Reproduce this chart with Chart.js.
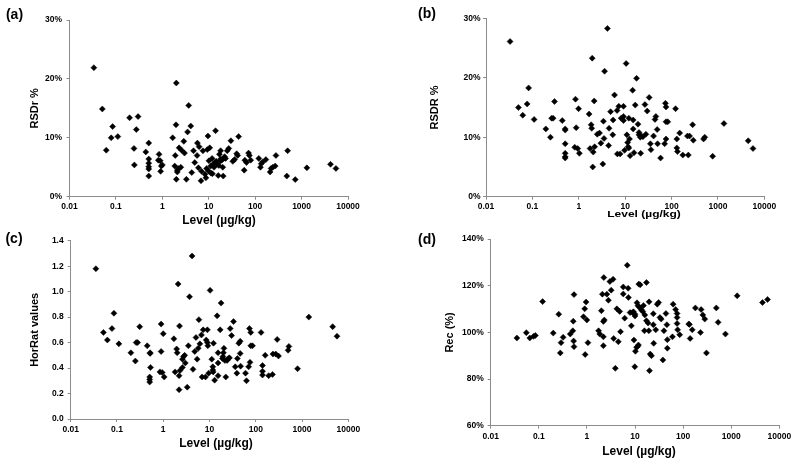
<!DOCTYPE html>
<html><head><meta charset="utf-8">
<script src="https://cdn.jsdelivr.net/npm/chart.js@4/dist/chart.umd.min.js"></script>
<style>
html,body{margin:0;padding:0;background:#fff;}
body{width:796px;height:463px;position:relative;overflow:hidden;font-family:"Liberation Sans",Arial,sans-serif;}
canvas{position:absolute;}
.lbl{position:absolute;font-weight:bold;white-space:nowrap;color:#000;transform:translate(-50%,-50%);line-height:1;}
</style></head><body>
<canvas id="ca"></canvas><canvas id="cb"></canvas><canvas id="cc"></canvas><canvas id="cd"></canvas>
<script>
// ---- data ----
const xTickValues = [0.01, 0.1, 1, 10, 100, 1000, 10000];
const xTickLabels = ["0.01", "0.1", "1", "10", "100", "1000", "10000"];
const xTitle = "Level (µg/kg)";
const panelLabels = ["(a)", "(b)", "(c)", "(d)"];
const yTitles = ["RSDr %", "RSDR %", "HorRat values", "Rec (%)"];

const levelsA = [0.0335,0.051,0.062,0.079,0.085,0.11,0.197,0.245,0.25,0.275,
0.30,0.44,0.51,0.51,0.51,0.51,0.51,0.51,0.85,0.82,
0.9,0.95,0.92,1.0,1.67,1.97,1.9,1.85,2.0,2.0,
2.1,2.2,2.3,2.5,2.6,2.9,3.0,3.3,3.5,3.7,
4.1,4.3,4.7,5.0,5.7,5.6,6.2,6.0,6.8,7.5,
8.3,8.7,9.6,9.3,9.8,10.5,11.2,11.8,12.5,13,
14,14.5,15,16,17.5,18,19,20,20.5,21,
22,25,27,30,33,36,40,44,42,58,
60,65,72,75,80,120,130,135,145,170,
210,220,240,270,280,480,500,730,1300,4200,
5500,10.1,11,13.5,9.0,7.0,16.5,23,2.1,12,
18,17];
const rsdrA = [21.9,14.9,7.9,10.0,11.9,10.2,13.4,8.2,5.4,11.4,
13.6,7.6,9.1,6.4,5.7,5.1,4.7,3.5,7.2,6.2,
6.1,5.2,4.3,5.4,10.0,12.2,7.0,5.2,19.3,2.95,
4.5,4.8,8.3,5.0,7.9,9.4,7.4,2.95,11.0,15.5,
12.0,4.1,7.8,5.8,9.1,7.0,8.5,4.9,2.7,7.8,
3.8,3.2,10.3,8.0,4.4,8.3,4.0,6.5,5.5,5.0,
11.2,6.0,5.5,3.6,6.0,7.8,6.2,5.0,3.5,6.5,
6.8,7.8,8.2,9.5,6.0,6.3,7.3,10.2,7.0,4.5,
6.2,5.8,7.4,7.0,6.2,6.5,5.0,5.6,5.9,6.3,
4.2,4.8,5.0,5.2,7.0,3.5,7.8,2.9,4.9,5.5,
4.8,6.1,5.2,5.8,4.8,4.3,5.3,6.5,4.2,3.9,
6.4,7.2];

const levelsB = [0.033,0.050,0.062,0.077,0.083,0.109,0.195,0.245,0.26,0.28,
0.30,0.44,0.51,0.51,0.51,0.51,0.51,0.51,0.85,0.88,
0.82,0.95,0.99,1.03,1.67,1.85,1.9,1.75,1.95,2.05,
2.0,2.15,2.2,2.5,2.8,3.0,3.5,3.3,3.4,3.6,
4.15,4.4,4.5,4.85,5.4,5.5,5.9,6.7,6.8,7.3,
7.8,8.2,9.2,9.2,9.2,10.5,9.7,10.9,12.0,11.3,
11.6,12.0,12.4,12.8,14.5,14.9,14.9,15.5,16.5,17.6,
18.9,19.9,19.9,21.2,22.3,21.6,24.2,28,26.7,29.9,
33,35,36,41,44,46,49,50,58,74,
76,76,83,76,71,122,130,130,134,150,
175,230,220,245,285,295,490,520,770,1350,
4500,5700];
const rsdRB = [26.1,15.0,13.7,15.6,18.3,13.0,11.4,10.0,13.2,13.2,
16.0,12.8,11.4,11.2,8.9,7.3,6.7,6.5,16.4,11.6,
8.3,8.1,14.8,7.3,13.9,12.1,11.5,8.1,23.3,7.5,
5.0,16.1,8.4,10.5,10.7,9.0,9.8,5.5,12.7,21.1,
28.3,8.6,11.5,14.3,10.4,12.9,17.1,14.5,7.2,15.2,
7.2,13.2,15.2,13.5,12.8,22.4,7.8,10.4,13.2,9.1,
8.4,8.2,9.7,6.9,17.9,12.9,11.4,7.4,15.4,19.9,
12.2,10.8,10.4,10.0,10.2,7.3,10.1,10.5,15.5,14.4,
16.7,8.9,7.9,10.2,13.0,13.5,11.3,8.9,6.5,15.7,
15.1,12.6,12.6,9.7,8.9,14.8,9.7,8.2,7.6,10.7,
7.0,7.0,10.2,10.2,12.1,9.5,9.7,10.0,6.8,12.3,
9.4,8.1];

const levelsC = [0.035,0.051,0.062,0.078,0.086,0.11,0.20,0.25,0.26,0.28,
0.31,0.45,0.52,0.52,0.53,0.51,0.51,0.51,0.90,0.90,
0.85,0.95,1.0,1.05,1.7,1.8,1.95,2.0,2.1,2.2,
2.2,2.25,2.3,2.6,2.75,2.9,2.6,3.0,3.3,3.5,
3.7,4.2,4.4,4.8,5.1,5.4,5.7,5.9,6.2,6.7,
6.9,7.3,8.2,8.5,9.0,9.0,9.2,9.6,10.3,11.2,
11.8,11.8,12.0,12.9,12.2,14.6,15.3,15.3,15.3,17,
17.8,19,19.5,20,20.5,21.5,22.5,24,25.5,27,
28,30,33,36,39,40,43,46,47,46,
73,78,70,75,78,85,63,60,130,140,
140,140,160,190,230,235,270,290,310,500,
520,800,1400,4600,5700];
const horratC = [1.18,0.68,0.62,0.71,0.83,0.59,0.52,0.455,0.60,0.60,
0.725,0.575,0.515,0.52,0.405,0.33,0.31,0.29,0.745,0.53,
0.37,0.365,0.67,0.33,0.63,0.37,0.55,0.52,1.06,0.34,
0.23,0.73,0.38,0.47,0.49,0.50,0.405,0.44,0.25,0.575,
0.96,1.28,0.39,0.53,0.64,0.47,0.555,0.78,0.59,0.66,
0.33,0.70,0.33,0.62,0.60,0.70,0.575,0.36,1.01,0.47,
0.41,0.385,0.37,0.305,0.595,0.81,0.52,0.44,0.34,0.70,
0.91,0.475,0.49,0.52,0.555,0.46,0.33,0.46,0.475,0.48,
0.71,0.655,0.765,0.41,0.36,0.475,0.595,0.61,0.415,0.515,
0.71,0.68,0.41,0.445,0.575,0.575,0.30,0.36,0.68,0.42,
0.375,0.345,0.50,0.34,0.35,0.51,0.51,0.625,0.495,0.54,
0.57,0.395,0.80,0.725,0.65];

const levelsD = [0.035,0.055,0.065,0.078,0.085,0.12,0.20,0.26,0.28,0.29,
0.32,0.45,0.51,0.52,0.53,0.54,0.54,0.85,0.9,0.92,
0.96,1.0,1.05,1.75,1.85,2.0,2.1,2.2,2.3,2.2,
2.2,2.25,2.6,2.8,3.0,3.2,3.5,3.6,3.9,4.2,
4.5,4.8,5.0,5.7,5.7,6.1,6.9,7.2,7.3,7.9,
8.8,8.4,9.3,9.5,9.9,10,10,10.2,10.8,11,
11.5,11.3,11.8,12,12.8,12.6,13.5,14.5,15,16,
15.7,17.3,17.3,18.7,19.6,19.4,20.7,22,20,24,
24,24.5,27,29,31,33,35,38,40,44,
46,47,47,60,62,70,75,75,75,77,
85,131,135,140,155,180,230,237,257,282,
306,490,535,760,1330,4470,5700];
const recD = [97.6,99.9,97.6,98.3,98.7,113.2,99.7,107.8,91.2,95.6,
97.9,99.3,100.7,104.8,96.3,93.9,116.2,106.7,110.1,90.5,
113.0,105.3,95.6,100.7,99.3,109.3,116.4,104.7,105.3,98.1,
94.3,123.5,116.4,113.8,121.8,118.1,122.8,97.4,84.6,110.1,
96.0,109.0,100.3,119.5,116.5,106.1,128.8,118.9,115.0,108.5,
108.5,102.8,108.8,96.7,85.3,107.8,107.0,91.9,93.6,112.7,
111.4,94.0,94.6,120.7,120.4,110.7,109.7,109.0,111.5,107.5,
100.7,121.4,105.0,104.0,113.1,100.7,90.7,90.0,83.6,108.0,
103.3,95.3,101.1,112.1,112.8,106.4,105.7,88.2,100.7,108.1,
103.3,96.9,93.2,98.1,112.1,109.8,108.1,103.8,106.4,101.1,
99.0,103.6,103.4,97.4,101.1,110.5,100.0,109.8,107.5,105.7,
91.2,110.5,104.3,99.3,115.7,112.8,114.1];

// ---- layout / styling ----
const FONT = '"Liberation Sans", Arial, sans-serif';
const AXIS = '#8c8c8c';
const panels = [
  {id:'ca', xs:levelsA, ys:rsdrA, min:0, max:30, step:10, fmt:v=>v+'%',
   left:0, top:0, w:400, h:230, yW:69.5, padR:52, padT:20, xH:33.3, yTitleC:35, yGap:4.5, xGap:2,
   lab:[14.5,14], xt:[219,220], xtScale:1},
  {id:'cb', xs:levelsB, ys:rsdRB, min:0, max:30, step:10, fmt:v=>v+'%',
   left:400, top:0, w:396, h:230, yW:86, padR:31.7, padT:18.3, xH:33.3, yTitleC:35, yGap:2.5, xGap:2,
   lab:[427,12.5], xt:[644,213.5], xtScale:0.72},
  {id:'cc', xs:levelsC, ys:horratC, min:0, max:1.4, step:0.2, fmt:v=>Number(v).toFixed(1),
   left:0, top:230, w:400, h:233, yW:70.7, padR:51.7, padT:10.7, xH:44, yTitleC:35, yGap:4, xGap:3,
   lab:[14,237.5], xt:[216,443.3], xtScale:1},
  {id:'cd', xs:levelsD, ys:recD, min:60, max:140, step:20, fmt:v=>v+'%',
   left:400, top:230, w:396, h:233, yW:90.7, padR:16.7, padT:8.3, xH:37.3, yTitleC:50, yGap:4, xGap:2.5,
   lab:[427,238.5], xt:[639,450.7], xtScale:1}
];

panels.forEach((p, k) => {
  const cv = document.getElementById(p.id);
  cv.width = p.w; cv.height = p.h;
  cv.style.left = p.left + 'px'; cv.style.top = p.top + 'px';
  cv.style.width = p.w + 'px'; cv.style.height = p.h + 'px';

  const pts = p.xs.map((x, i) => ({x: x, y: p.ys[i]}));
  new Chart(cv.getContext('2d'), {
    type: 'scatter',
    data: {datasets: [{data: pts, pointStyle: 'rectRot', pointRadius: 3, pointHoverRadius: 3,
      backgroundColor: '#000', borderColor: '#000', borderWidth: 0.5}]},
    options: {
      responsive: false, animation: false, devicePixelRatio: 1,
      layout: {padding: {left: 0, right: p.padR, top: p.padT, bottom: 0}},
      plugins: {legend: {display: false}, tooltip: {enabled: false}},
      scales: {
        x: {
          type: 'logarithmic', min: 0.01, max: 10000,
          afterBuildTicks: ax => { ax.ticks = xTickValues.map(v => ({value: v, major: true})); },
          afterFit: s => { s.height = p.xH; },
          ticks: {autoSkip: false, maxRotation: 0, padding: p.xGap, color: '#000',
            font: {family: FONT, size: 8.5, weight: 'bold'},
            callback: (v, i) => xTickLabels[i]},
          grid: {drawOnChartArea: false, drawTicks: true, tickLength: 3, color: AXIS, lineWidth: 1},
          border: {display: true, color: AXIS, width: 1}
        },
        y: {
          min: p.min, max: p.max,
          afterFit: s => { s.width = p.yW; },
          ticks: {stepSize: p.step, padding: p.yGap, color: '#000',
            font: {family: FONT, size: 8.5, weight: 'bold'},
            callback: v => p.fmt(Math.round(v * 100) / 100)},
          grid: {drawOnChartArea: false, drawTicks: true, tickLength: 3, color: AXIS, lineWidth: 1},
          border: {display: true, color: AXIS, width: 1},
          title: {display: true, text: yTitles[k], color: '#000',
            font: {family: FONT, size: 11, weight: 'bold', lineHeight: 1.2},
            padding: {top: p.yTitleC - 6.6, bottom: 0}}
        }
      }
    }
  });

  const l = document.createElement('div');
  l.className = 'lbl'; l.textContent = panelLabels[k];
  l.style.left = p.lab[0] + 'px'; l.style.top = p.lab[1] + 'px'; l.style.fontSize = '14px';
  document.body.appendChild(l);

  const t = document.createElement('div');
  t.className = 'lbl'; t.textContent = xTitle;
  t.style.left = p.xt[0] + 'px'; t.style.top = p.xt[1] + 'px'; t.style.fontSize = '12px';
  t.style.transform = 'translate(-50%,-50%) scaleY(' + p.xtScale + ')';
  document.body.appendChild(t);
});
</script>
</body></html>
